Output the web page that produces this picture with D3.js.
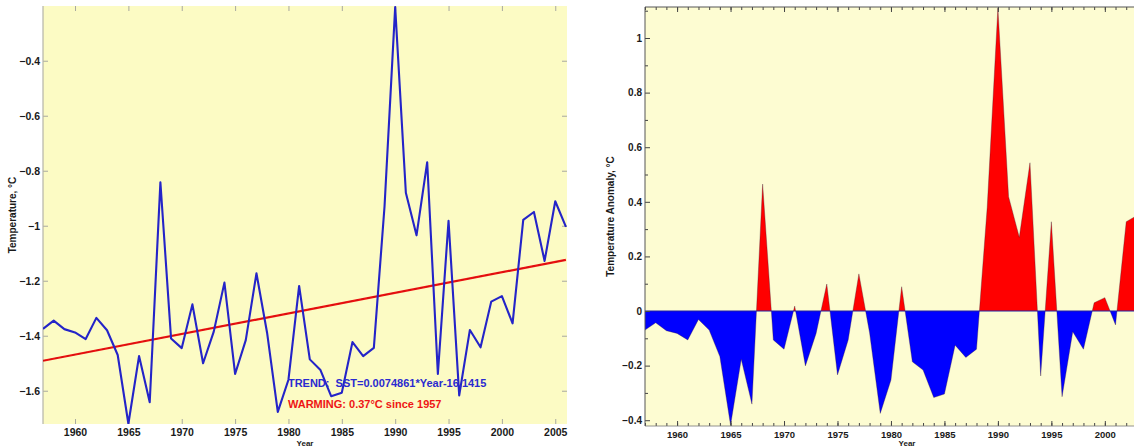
<!DOCTYPE html>
<html>
<head>
<meta charset="utf-8">
<script src="https://cdn.jsdelivr.net/npm/d3@7"></script>
<style>
  html, body { margin: 0; padding: 0; background: #ffffff; overflow: hidden; }
  text { font-family: "Liberation Sans", Arial, sans-serif; }
</style>
</head>
<body>
<div id="chart"></div>
<script>
// ---- data ----
const sstYears = [1957, 1958, 1959, 1960, 1961, 1962, 1963, 1964, 1965, 1966,
                  1967, 1968, 1969, 1970, 1971, 1972, 1973, 1974, 1975, 1976,
                  1977, 1978, 1979, 1980, 1981, 1982, 1983, 1984, 1985, 1986,
                  1987, 1988, 1989, 1990, 1991, 1992, 1993, 1994, 1995, 1996,
                  1997, 1998, 1999, 2000, 2001, 2002, 2003, 2004, 2005, 2006]
const sstValues = [-1.375, -1.345, -1.376, -1.388, -1.412, -1.335, -1.380, -1.470, -1.720, -1.474,
                   -1.642, -0.842, -1.410, -1.445, -1.286, -1.500, -1.385, -1.207, -1.539, -1.416,
                   -1.173, -1.390, -1.677, -1.560, -1.219, -1.486, -1.525, -1.620, -1.607, -1.423,
                   -1.474, -1.444, -0.931, -0.205, -0.880, -1.035, -0.769, -1.539, -0.982, -1.617,
                   -1.379, -1.442, -1.276, -1.256, -1.355, -0.979, -0.950, -1.128, -0.911, -1.004]
const trendYears  = [1957, 2006]
const trendValues = [-1.491, -1.124]

const anomYears  = [1957, 1958, 1959, 1960, 1961, 1962, 1963, 1964, 1965, 1966,
                    1967, 1968, 1969, 1970, 1971, 1972, 1973, 1974, 1975, 1976,
                    1977, 1978, 1979, 1980, 1981, 1982, 1983, 1984, 1985, 1986,
                    1987, 1988, 1989, 1990, 1991, 1992, 1993, 1994, 1995, 1996,
                    1997, 1998, 1999, 2000, 2001, 2002, 2003]
const anomValues = [-0.070, -0.043, -0.072, -0.082, -0.106, -0.031, -0.070, -0.167, -0.418, -0.177,
                    -0.341,  0.465, -0.106, -0.140,  0.018, -0.201, -0.082,  0.099, -0.234, -0.106,
                     0.136, -0.080, -0.375, -0.253,  0.089, -0.186, -0.216, -0.317, -0.304, -0.125,
                    -0.170, -0.140,  0.380,  1.110,  0.419,  0.270,  0.543, -0.238,  0.327, -0.314,
                    -0.076, -0.140,  0.030,  0.049, -0.051,  0.327,  0.350]

const yearTicks   = [1960, 1965, 1970, 1975, 1980, 1985, 1990, 1995, 2000, 2005]
const sstTicks    = [-1.6, -1.4, -1.2, -1, -0.8, -0.6, -0.4]
const anomTicks   = [-0.4, -0.2, 0, 0.2, 0.4, 0.6, 0.8, 1]
const anomMinor   = [-0.3, -0.1, 0.1, 0.3, 0.5, 0.7, 0.9, 1.1]
const trendLabel   = 'TREND:  SST=0.0074861*Year-16.1415'
const warmingLabel = 'WARMING: 0.37\u00B0C since 1957'

const W = 1134, H = 447
const svg = d3.select('#chart').append('svg').attr('width', W).attr('height', H)

// ================= left panel : SST line =================
const L = { left: 43, right: 567, top: 6, bottom: 424 }
const xL = d3.scaleLinear().domain([1957, 2006.1]).range([L.left, L.right])
const yL = d3.scaleLinear().domain([-1.721, -0.201]).range([L.bottom, L.top])

svg.append('rect').attr('x', L.left).attr('y', L.top)
  .attr('width', L.right - L.left).attr('height', L.bottom - L.top).attr('fill', '#fcfbc4')

svg.append('clipPath').attr('id', 'clipL').append('rect')
  .attr('x', L.left).attr('y', L.top).attr('width', L.right - L.left).attr('height', L.bottom - L.top)

function styleAxis(g, tickColor, fontSize) {
  g.select('.domain').remove()
  g.selectAll('line').attr('stroke', tickColor)
  g.selectAll('text').attr('fill', '#1a1a1a').style('font-size', fontSize + 'px').style('font-weight', 'bold')
}

svg.append('g').attr('transform', 'translate(0,' + L.bottom + ')')
  .call(d3.axisBottom(xL).tickValues(yearTicks).tickFormat(d3.format('d')).tickSizeInner(-5).tickSizeOuter(0).tickPadding(5))
  .call(g => styleAxis(g, '#a8a8a0', 10.5))
svg.append('g').attr('transform', 'translate(0,' + L.top + ')')
  .call(d3.axisTop(xL).tickValues(yearTicks).tickFormat('').tickSizeInner(-5).tickSizeOuter(0))
  .call(g => styleAxis(g, '#a8a8a0', 10))
svg.append('g').attr('transform', 'translate(' + L.left + ',0)')
  .call(d3.axisLeft(yL).tickValues(sstTicks).tickFormat(d3.format('')).tickSizeInner(-5).tickSizeOuter(0).tickPadding(3))
  .call(g => styleAxis(g, '#a8a8a0', 10.5))
svg.append('g').attr('transform', 'translate(' + L.right + ',0)')
  .call(d3.axisRight(yL).tickValues(sstTicks).tickFormat('').tickSizeInner(-5).tickSizeOuter(0))
  .call(g => styleAxis(g, '#a8a8a0', 10))

// left frame line
svg.append('line').attr('x1', L.left).attr('x2', L.left).attr('y1', L.top).attr('y2', L.bottom)
  .attr('stroke', '#b4b4a8').attr('stroke-width', 1.2)

const plotL = svg.append('g').attr('clip-path', 'url(#clipL)')
const sstData = sstYears.map((yr, i) => ({ year: yr, value: sstValues[i] }))
const trendData = trendYears.map((yr, i) => ({ year: yr, value: trendValues[i] }))
const lineL = d3.line().x(d => xL(d.year)).y(d => yL(d.value))

plotL.append('path').datum(trendData).attr('d', lineL)
  .attr('fill', 'none').attr('stroke', '#ee1010').attr('stroke-width', 2.2)
plotL.append('path').datum(trendData).attr('d', lineL)
  .attr('fill', 'none').attr('stroke', '#a01010').attr('stroke-width', 0.8)
  .attr('stroke-dasharray', '3,3').attr('opacity', 0.6)
plotL.append('path').datum(sstData).attr('d', lineL)
  .attr('fill', 'none').attr('stroke', '#2424c8').attr('stroke-width', 2.1)
  .attr('stroke-linejoin', 'round')

svg.append('text').attr('x', xL(1979.95)).attr('y', yL(-1.587))
  .attr('xml:space', 'preserve').style('white-space', 'pre')
  .style('font-size', '11px').style('font-weight', 'bold').attr('fill', '#2a2ad0')
  .text(trendLabel)
svg.append('text').attr('x', xL(1979.95)).attr('y', yL(-1.663))
  .style('font-size', '11px').style('font-weight', 'bold').attr('fill', '#ee1515')
  .text(warmingLabel)

svg.append('text').attr('transform', 'translate(16,' + ((L.top + L.bottom) / 2) + ') rotate(-90)')
  .attr('text-anchor', 'middle').style('font-size', '10px').style('font-weight', 'bold').attr('fill', '#1a1a1a')
  .text('Temperature, \u00B0C')
svg.append('text').attr('x', (L.left + L.right) / 2).attr('y', 446)
  .attr('text-anchor', 'middle').style('font-size', '8px').style('font-weight', 'bold').attr('fill', '#1a1a1a')
  .text('Year')

// ================= right panel : anomaly area =================
const R = { left: 645, right: 1169, top: 7, bottom: 426 }
const xR = d3.scaleLinear().domain([1957, 2006]).range([R.left, R.right])
const yR = d3.scaleLinear().domain([-0.4212, 1.1136]).range([R.bottom, R.top])

svg.append('rect').attr('x', R.left).attr('y', R.top)
  .attr('width', R.right - R.left).attr('height', R.bottom - R.top).attr('fill', '#fdfcd2')

const anomData = anomYears.map((yr, i) => ({ year: yr, value: anomValues[i] }))
const areaR = d3.area().x(d => xR(d.year)).y0(yR(0)).y1(d => yR(d.value))

svg.append('clipPath').attr('id', 'clipUp').append('rect')
  .attr('x', R.left).attr('y', R.top).attr('width', R.right - R.left).attr('height', yR(0) - R.top)
svg.append('clipPath').attr('id', 'clipDown').append('rect')
  .attr('x', R.left).attr('y', yR(0)).attr('width', R.right - R.left).attr('height', R.bottom - yR(0))

svg.append('path').datum(anomData).attr('d', areaR).attr('fill', '#ff0000').attr('clip-path', 'url(#clipUp)')
svg.append('path').datum(anomData).attr('d', areaR).attr('fill', '#0000ff').attr('clip-path', 'url(#clipDown)')
svg.append('path').datum(anomData)
  .attr('d', d3.line().x(d => xR(d.year)).y(d => yR(d.value)))
  .attr('fill', 'none').attr('stroke', '#3a1a30').attr('stroke-width', 0.6).attr('opacity', 0.55)
svg.append('line').attr('x1', R.left).attr('x2', R.right).attr('y1', yR(0)).attr('y2', yR(0))
  .attr('stroke', '#2020a0').attr('stroke-width', 1)

// only label the year ticks that fall inside the window
const visibleYearTicks = yearTicks.filter(d => xR(d) < W - 14)
const yearMinor = d3.range(1957, 2007)
svg.append('g').attr('transform', 'translate(0,' + R.bottom + ')')
  .call(d3.axisBottom(xR).tickValues(yearMinor).tickFormat('').tickSizeInner(-3).tickSizeOuter(0))
  .call(g => styleAxis(g, '#444', 9))
svg.append('g').attr('transform', 'translate(0,' + R.top + ')')
  .call(d3.axisTop(xR).tickValues(yearMinor).tickFormat('').tickSizeInner(-3).tickSizeOuter(0))
  .call(g => styleAxis(g, '#444', 9))
svg.append('g').attr('transform', 'translate(0,' + R.bottom + ')')
  .call(d3.axisBottom(xR).tickValues(visibleYearTicks).tickFormat(d3.format('d')).tickSizeInner(-5).tickSizeOuter(0).tickPadding(5.5))
  .call(g => styleAxis(g, '#444', 9.5))
svg.append('g').attr('transform', 'translate(0,' + R.top + ')')
  .call(d3.axisTop(xR).tickValues(yearTicks).tickFormat('').tickSizeInner(-5).tickSizeOuter(0))
  .call(g => styleAxis(g, '#444', 9))
svg.append('g').attr('transform', 'translate(' + R.left + ',0)')
  .call(d3.axisLeft(yR).tickValues(anomTicks).tickFormat(d3.format('')).tickSizeInner(-5).tickSizeOuter(0).tickPadding(3))
  .call(g => styleAxis(g, '#444', 10))
svg.append('g').attr('transform', 'translate(' + R.left + ',0)')
  .call(d3.axisLeft(yR).tickValues(anomMinor).tickFormat('').tickSizeInner(-3).tickSizeOuter(0))
  .call(g => styleAxis(g, '#444', 9))

// right panel frame
svg.append('path')
  .attr('d', 'M' + R.left + ',' + R.bottom + 'V' + R.top + 'H' + R.right)
  .attr('fill', 'none').attr('stroke', '#555').attr('stroke-width', 1)
svg.append('line').attr('x1', R.left).attr('x2', R.right).attr('y1', R.bottom).attr('y2', R.bottom)
  .attr('stroke', '#777').attr('stroke-width', 0.8)

svg.append('text').attr('transform', 'translate(614,' + ((R.top + R.bottom) / 2) + ') rotate(-90)')
  .attr('text-anchor', 'middle').style('font-size', '10px').style('font-weight', 'bold').attr('fill', '#1a1a1a')
  .text('Temperature Anomaly, \u00B0C')
svg.append('text').attr('x', (R.left + R.right) / 2).attr('y', 446)
  .attr('text-anchor', 'middle').style('font-size', '8px').style('font-weight', 'bold').attr('fill', '#1a1a1a')
  .text('Year')
</script>
</body>
</html>
